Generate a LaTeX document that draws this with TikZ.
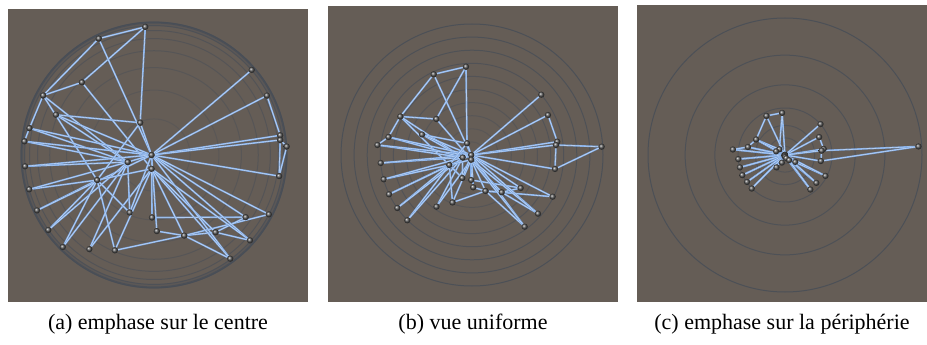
\documentclass[tikz,border=0pt]{standalone}
\usepackage{fontspec}
\setmainfont{Liberation Serif}
\definecolor{bg}{RGB}{101,93,86}
\definecolor{ringc}{RGB}{72,78,86}
\definecolor{edgeblue}{RGB}{128,170,228}
\definecolor{edgehi}{RGB}{205,224,250}
\pgfdeclarelayer{back}
\pgfdeclarelayer{mid}
\pgfsetlayers{back,mid,main}
\tikzset{
  ringline/.style={draw=ringc, line width=1pt},
  edgeline/.style={draw=edgeblue, line width=0.65pt, double=edgehi, double distance=0.4pt},
  vertex/.style={circle, inner sep=0pt, minimum size=6.2pt, shade, ball color=black!68},
  caption/.style={font=\fontsize{22}{26}\selectfont, anchor=base}
}
\def\ulist{1/-6/-88.3,2/-38.3/-80.7,3/-35.7/-36,4/-71.7/-38.5,5/-50/-20.5,6/-83.5/-18,7/-94.6/-10,8/-91.3/8,9/-88.3/24.3,10/-83/39.3,11/-74.7/53,12/-64.7/65.3,13/-35.5/51.7,14/-19.5/47.5,15/-9.7/23,16/-22.7/10,17/-9.3/2.5,18/-5/-11.7,19/-0.8/0,20/-0.8/4.7,21/-0.8/25,22/1.2/32.3,23/13.5/36,24/29.7/37.3,25/52.7/71.7,26/48.7/33,27/66/58.7,28/80.7/41.7,29/83/14,30/129.7/-8.3,31a/85.3/-13.3,31b/84/-10,32/76/-40,33/69.3/-60.3}
\def\elist{1/2,1/3,1/18,2/4,2/19,3/4,3/20,4/6,4/16,4/17,5/18,5/17,5/19,6/7,6/17,6/19,7/17,7/19,8/17,8/19,9/16,9/17,10/16,10/19,11/16,11/17,12/16,12/17,13/17,13/20,14/16,14/20,14/23,15/17,15/16,15/19,16/18,16/20,17/19,18/19,19/20,20/21,19/22,21/26,22/23,23/24,23/28,23/25,24/26,24/27,20/24,19/25,20/25,19/26,19/27,20/27,19/28,20/23,19/29,19/31a,19/31b,19/32,19/33,32/31a,31b/30,30/29,31b/29}
\begin{document}
\begin{tikzpicture}[x=1pt,y=-1pt]
\useasboundingbox (0,0) rectangle (927,345);
\begin{pgfonlayer}{back}
\fill[white] (0,0) rectangle (927,345);
\fill[bg] (8,9) rectangle (308,302);
\fill[bg] (328,6) rectangle (618,302);
\fill[bg] (637,5) rectangle (927,302);
\draw[ringc, line width=4pt, opacity=0.3] (154,155) circle[radius=131pt];
\foreach \i in {1,...,10}{
  \pgfmathsetmacro\ra{133*(1-(1-\i/10)^3)}
  \pgfmathsetmacro\rb{13.1*\i}
  \pgfmathsetmacro\rc{137*(\i/10)^3}
  \pgfmathsetmacro\op{0.25+0.06*\i}
  \draw[ringline, draw opacity=\op] (154,155) circle[radius=\ra pt];
  \draw[ringline, draw opacity=\op] (472,155) circle[radius=\rb pt];
  \draw[ringline, draw opacity=\op] (785,155) circle[radius=\rc pt];
}
\end{pgfonlayer}
\foreach \n/\ux/\uy in \ulist {
  \pgfmathsetmacro\rr{max(veclen(\ux,\uy),0.01)}
  \pgfmathsetmacro\sa{133*(1-(1-\rr/131)^3)/\rr}
  \pgfmathsetmacro\sc{(137/131)*(\rr/131)^2}
  \node[vertex] (a\n) at ({154+\sa*\ux},{155+\sa*\uy}) {};
  \node[vertex] (b\n) at ({472+\ux},{155+\uy}) {};
  \node[vertex] (c\n) at ({785+\sc*\ux},{155+\sc*\uy}) {};
}
\begin{pgfonlayer}{mid}
\foreach \p in {a,b,c}{
  \foreach \s/\t in \elist {
    \draw[edgeline] (\p\s) -- (\p\t);
  }
}
\end{pgfonlayer}
\node[caption] (capa) at (158,329) {(a) emphase sur le centre};
\node[caption] (capb) at (473,329) {(b) vue uniforme};
\node[caption] (capc) at (782,329) {(c) emphase sur la périphérie};
\end{tikzpicture}
\end{document}
